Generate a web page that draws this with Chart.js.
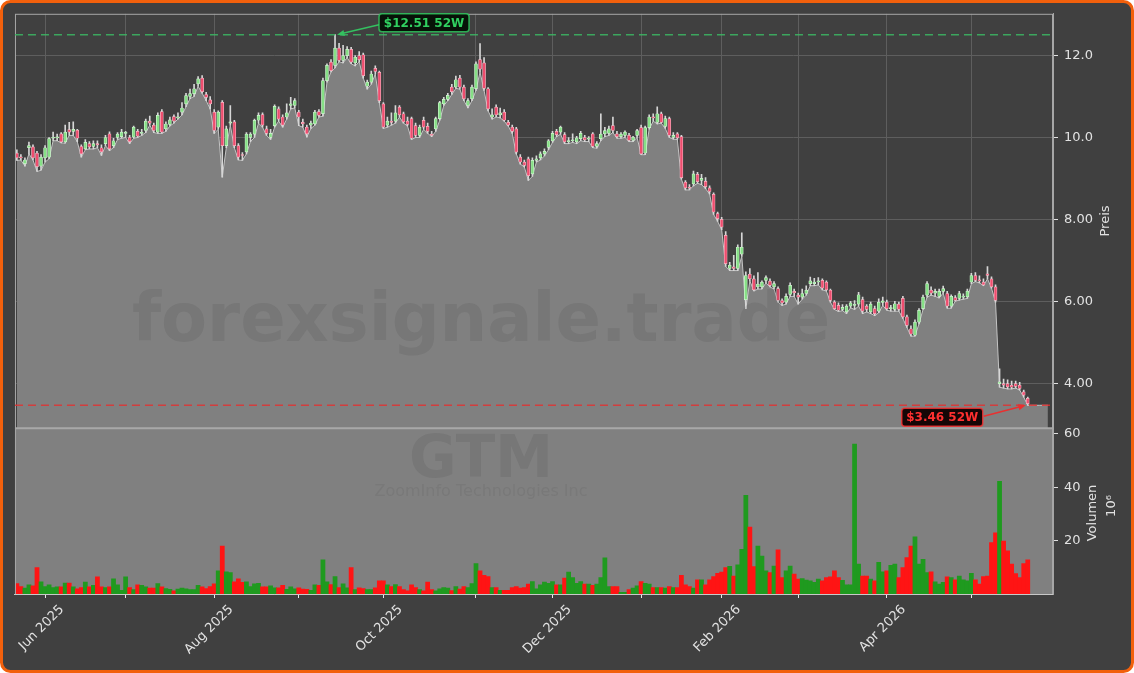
<!DOCTYPE html>
<html>
<head>
<meta charset="utf-8">
<title>GTM</title>
<script src="https://cdn.jsdelivr.net/npm/chart.js@4.4.1/dist/chart.umd.min.js"></script>
<style>
  html, body { margin: 0; padding: 0; background: #ffffff; }
  canvas { display: block; }
</style>
</head>
<body>
<canvas id="chart" width="1134" height="673"></canvas>
<script>
'use strict';

// x values are trading-day numbers, 0 = 21 May 2025
const monthTicks = [7, 27, 49, 70, 91, 114, 133, 155, 175, 194, 216, 237];
const monthLabels = ['Jun 2025', '', 'Aug 2025', '', 'Oct 2025', '', 'Dec 2025', '', 'Feb 2026', '', 'Apr 2026', ''];

const opens = [
  9.62, 9.52, 9.36, 9.75, 9.77, 9.62, 9.30, 9.50, 9.52, 9.98,
  9.99, 10.09, 9.89, 10.19, 10.15, 10.18, 9.78, 9.72, 9.85, 9.78,
  9.85, 9.75, 9.85, 10.09, 9.80, 10.00, 10.02, 10.10, 10.00, 10.01,
  10.15, 10.10, 10.17, 10.40, 10.30, 10.13, 10.63, 10.21, 10.32, 10.51,
  10.48, 10.62, 10.82, 11.00, 11.07, 11.31, 11.45, 11.05, 10.92, 10.62,
  10.25, 10.86, 9.80, 10.35, 10.38, 9.80, 9.58, 9.65, 10.00, 10.08,
  10.42, 10.56, 10.21, 10.00, 10.29, 10.70, 10.50, 10.50, 10.78, 10.78,
  10.62, 10.37, 10.25, 10.30, 10.33, 10.63, 10.58, 11.39, 11.84, 11.76,
  12.18, 11.88, 12.00, 12.15, 11.82, 12.00, 12.02, 11.25, 11.35, 11.69,
  11.59, 10.82, 10.30, 10.40, 10.40, 10.74, 10.58, 10.40, 10.46, 10.29,
  10.05, 10.42, 10.27, 10.08, 10.21, 10.46, 10.82, 10.93, 11.23, 11.23,
  11.45, 11.23, 10.78, 10.94, 11.19, 11.90, 11.82, 11.19, 10.50, 10.74,
  10.55, 10.62, 10.37, 10.25, 10.21, 9.52, 9.40, 9.48, 9.11, 9.44,
  9.50, 9.60, 9.76, 9.92, 10.15, 10.13, 10.07, 9.90, 9.92, 9.89,
  9.97, 10.00, 9.96, 10.09, 9.78, 9.97, 10.09, 10.10, 10.29, 10.09,
  10.02, 10.05, 10.05, 9.93, 10.05, 10.24, 9.62, 10.24, 10.50, 10.37,
  10.58, 10.27, 10.46, 10.00, 10.09, 10.02, 8.91, 8.78, 8.87, 9.10,
  8.95, 8.93, 8.77, 8.61, 8.14, 8.00, 7.61, 6.80, 6.84, 6.80,
  7.15, 6.04, 6.66, 6.55, 6.35, 6.35, 6.51, 6.49, 6.35, 6.31,
  6.02, 5.98, 6.17, 6.24, 6.15, 6.10, 6.19, 6.43, 6.43, 6.47,
  6.51, 6.47, 6.27, 5.98, 5.90, 5.80, 5.74, 5.88, 5.90, 5.93,
  6.04, 5.88, 5.74, 5.82, 5.76, 5.97, 5.98, 5.82, 5.80, 5.93,
  6.07, 5.62, 5.33, 5.17, 5.49, 5.82, 6.15, 6.27, 6.20, 6.12,
  6.24, 6.19, 5.88, 6.09, 6.07, 6.10, 6.11, 6.47, 6.63, 6.52,
  6.47, 6.67, 6.55, 6.35, 3.99, 3.99, 3.99, 3.95, 3.99, 3.95,
  3.79, 3.63
];

const highs = [
  9.70, 9.58, 9.50, 9.89, 9.82, 9.66, 9.58, 9.80, 10.00, 10.13,
  10.08, 10.12, 10.30, 10.37, 10.38, 10.20, 9.82, 9.95, 9.90, 9.92,
  9.92, 9.82, 10.05, 10.14, 9.98, 10.12, 10.20, 10.15, 10.05, 10.28,
  10.20, 10.20, 10.45, 10.52, 10.35, 10.60, 10.68, 10.38, 10.50, 10.55,
  10.60, 10.85, 11.08, 11.18, 11.30, 11.49, 11.51, 11.10, 11.00, 10.68,
  10.65, 10.90, 10.28, 10.78, 10.42, 9.85, 9.63, 10.12, 10.12, 10.45,
  10.60, 10.60, 10.28, 10.20, 10.80, 10.75, 10.55, 10.82, 10.98, 10.95,
  10.66, 10.45, 10.30, 10.40, 10.66, 10.68, 11.45, 11.80, 11.90, 12.51,
  12.30, 12.25, 12.22, 12.20, 12.00, 12.10, 12.06, 11.40, 11.62, 11.75,
  11.62, 10.85, 10.50, 10.60, 10.78, 10.78, 10.62, 10.50, 10.50, 10.35,
  10.30, 10.50, 10.35, 10.15, 10.50, 10.88, 10.98, 11.08, 11.30, 11.50,
  11.52, 11.28, 10.95, 11.28, 11.85, 12.29, 11.95, 11.22, 10.70, 10.80,
  10.72, 10.68, 10.42, 10.30, 10.25, 9.58, 9.45, 9.52, 9.50, 9.55,
  9.65, 9.72, 9.95, 10.15, 10.20, 10.28, 10.12, 10.00, 10.09, 10.03,
  10.15, 10.05, 10.02, 10.12, 9.90, 10.58, 10.25, 10.28, 10.50, 10.15,
  10.12, 10.16, 10.10, 10.03, 10.20, 10.30, 10.28, 10.55, 10.58, 10.75,
  10.62, 10.52, 10.50, 10.12, 10.12, 10.05, 8.95, 8.85, 9.18, 9.15,
  9.10, 9.02, 8.82, 8.65, 8.18, 8.05, 7.70, 6.95, 7.12, 7.38,
  7.67, 6.72, 6.80, 6.62, 6.70, 6.50, 6.62, 6.55, 6.48, 6.35,
  6.06, 6.18, 6.45, 6.30, 6.20, 6.30, 6.38, 6.59, 6.56, 6.58,
  6.55, 6.50, 6.30, 6.02, 5.96, 5.92, 5.92, 6.00, 6.02, 6.22,
  6.10, 5.92, 5.98, 5.88, 6.06, 6.10, 6.03, 5.90, 6.00, 5.98,
  6.12, 5.66, 5.40, 5.55, 5.82, 6.15, 6.48, 6.35, 6.30, 6.30,
  6.37, 6.24, 6.16, 6.14, 6.24, 6.18, 6.30, 6.68, 6.70, 6.62,
  6.55, 6.85, 6.60, 6.40, 4.35, 4.10, 4.08, 4.05, 4.05, 4.02,
  3.83, 3.66
];

const lows = [
  9.44, 9.45, 9.30, 9.60, 9.45, 9.17, 9.20, 9.40, 9.48, 9.92,
  9.92, 9.87, 9.86, 10.05, 10.05, 9.90, 9.52, 9.70, 9.72, 9.72,
  9.75, 9.56, 9.80, 9.68, 9.75, 9.95, 9.98, 10.00, 9.85, 9.98,
  10.00, 10.05, 10.12, 10.30, 10.12, 10.10, 10.10, 10.15, 10.28, 10.35,
  10.45, 10.55, 10.75, 10.95, 11.00, 11.25, 11.08, 10.90, 10.70, 10.10,
  10.20, 9.03, 9.75, 10.30, 9.75, 9.45, 9.44, 9.60, 9.90, 10.00,
  10.35, 10.25, 10.05, 9.95, 10.25, 10.40, 10.25, 10.45, 10.70, 10.72,
  10.29, 10.25, 10.01, 10.22, 10.30, 10.50, 10.52, 11.35, 11.60, 11.70,
  11.85, 11.82, 11.95, 11.80, 11.75, 11.85, 11.45, 11.18, 11.30, 11.55,
  10.85, 10.22, 10.25, 10.30, 10.35, 10.50, 10.35, 10.28, 9.95, 10.00,
  10.00, 10.20, 10.10, 10.02, 10.15, 10.42, 10.78, 10.90, 11.05, 11.20,
  11.18, 10.90, 10.72, 10.90, 11.15, 11.60, 11.15, 10.65, 10.45, 10.50,
  10.48, 10.40, 10.28, 10.10, 9.60, 9.35, 9.28, 8.95, 9.05, 9.40,
  9.45, 9.55, 9.70, 9.88, 10.02, 10.08, 9.85, 9.85, 9.88, 9.85,
  9.92, 9.90, 9.90, 9.75, 9.74, 9.92, 10.02, 10.05, 10.12, 9.98,
  9.98, 10.00, 9.90, 9.90, 10.00, 9.58, 9.58, 10.20, 10.40, 10.33,
  10.35, 10.22, 10.00, 9.96, 9.95, 8.98, 8.72, 8.72, 8.82, 8.88,
  8.85, 8.75, 8.62, 8.12, 7.95, 7.75, 6.85, 6.75, 6.75, 6.75,
  7.10, 5.82, 6.50, 6.25, 6.30, 6.30, 6.45, 6.35, 6.30, 5.98,
  5.90, 5.93, 6.12, 6.12, 5.93, 6.05, 6.15, 6.38, 6.38, 6.40,
  6.28, 6.25, 5.98, 5.80, 5.75, 5.77, 5.70, 5.84, 5.80, 5.88,
  5.70, 5.74, 5.70, 5.65, 5.72, 5.90, 5.78, 5.76, 5.76, 5.76,
  5.58, 5.36, 5.15, 5.15, 5.45, 5.80, 6.10, 6.15, 6.12, 6.08,
  6.20, 5.83, 5.83, 6.00, 6.03, 6.05, 6.07, 6.43, 6.48, 6.45,
  6.38, 6.55, 6.32, 5.98, 3.90, 3.88, 3.86, 3.86, 3.88, 3.83,
  3.66, 3.46
];

const closes = [
  9.50, 9.50, 9.45, 9.80, 9.50, 9.29, 9.52, 9.75, 9.97, 10.00,
  10.01, 9.89, 10.13, 10.13, 10.20, 9.98, 9.60, 9.88, 9.77, 9.85,
  9.82, 9.65, 10.00, 9.72, 9.92, 10.08, 10.13, 10.10, 9.90, 10.25,
  10.03, 10.12, 10.40, 10.35, 10.17, 10.54, 10.13, 10.33, 10.43, 10.40,
  10.50, 10.72, 11.02, 11.07, 11.19, 11.43, 11.12, 10.98, 10.82, 10.17,
  10.62, 9.80, 10.21, 10.38, 9.80, 9.52, 9.56, 10.08, 10.08, 10.42,
  10.54, 10.30, 10.10, 10.10, 10.76, 10.45, 10.30, 10.60, 10.82, 10.90,
  10.50, 10.33, 10.09, 10.35, 10.62, 10.54, 11.39, 11.76, 11.63, 12.18,
  11.88, 12.00, 12.15, 11.84, 11.96, 11.90, 11.51, 11.35, 11.55, 11.61,
  10.90, 10.25, 10.40, 10.37, 10.60, 10.55, 10.38, 10.32, 9.98, 10.05,
  10.25, 10.25, 10.15, 10.05, 10.46, 10.85, 10.93, 11.03, 11.12, 11.41,
  11.23, 10.94, 10.90, 11.23, 11.80, 11.67, 11.20, 10.70, 10.55, 10.55,
  10.60, 10.42, 10.30, 10.15, 9.64, 9.40, 9.32, 9.07, 9.44, 9.48,
  9.60, 9.66, 9.92, 10.10, 10.07, 10.25, 9.89, 9.92, 9.93, 9.99,
  10.10, 9.94, 9.97, 9.78, 9.85, 10.08, 10.17, 10.21, 10.17, 10.02,
  10.08, 10.13, 9.93, 10.01, 10.17, 9.60, 10.24, 10.50, 10.48, 10.58,
  10.37, 10.46, 10.05, 10.05, 9.99, 9.02, 8.77, 8.76, 9.11, 8.92,
  9.00, 8.80, 8.68, 8.18, 8.02, 7.81, 6.92, 6.88, 6.80, 7.32,
  7.32, 6.63, 6.55, 6.28, 6.42, 6.47, 6.58, 6.39, 6.43, 6.02,
  5.96, 6.12, 6.39, 6.21, 6.10, 6.19, 6.27, 6.50, 6.47, 6.50,
  6.32, 6.28, 6.02, 5.82, 5.78, 5.85, 5.88, 5.96, 5.90, 6.16,
  5.76, 5.80, 5.93, 5.70, 5.98, 6.01, 5.82, 5.83, 5.94, 5.80,
  5.62, 5.41, 5.20, 5.49, 5.78, 6.10, 6.43, 6.20, 6.24, 6.24,
  6.31, 5.88, 6.12, 6.02, 6.19, 6.12, 6.25, 6.63, 6.51, 6.50,
  6.40, 6.63, 6.35, 6.02, 4.03, 3.95, 3.91, 3.90, 3.92, 3.87,
  3.71, 3.50
];

// million shares
const volumes = [
  4.2, 3.1, 2.5, 3.7, 3.3, 10.1, 4.8, 3.1, 3.7, 2.7,
  3.0, 3.0, 4.4, 4.4, 3.0, 2.2, 2.7, 4.7, 3.0, 3.5,
  6.7, 3.0, 2.7, 3.0, 5.9, 3.7, 1.7, 6.7, 2.7, 1.9,
  3.7, 3.5, 3.0, 2.5, 2.5, 4.2, 3.0, 2.3, 2.0, 1.5,
  2.1, 2.5, 2.2, 1.9, 1.9, 3.5, 3.0, 2.3, 3.1, 4.1,
  8.9, 18.1, 8.5, 8.3, 4.8, 5.9, 4.6, 4.8, 3.1, 4.1,
  4.3, 3.0, 3.0, 3.3, 2.6, 2.6, 3.5, 2.0, 3.0, 2.2,
  2.6, 2.1, 2.0, 1.7, 3.7, 3.5, 13.0, 4.8, 3.8, 6.8,
  2.7, 4.1, 2.6, 10.1, 1.9, 2.6, 2.3, 1.9, 1.9, 2.6,
  5.2, 5.2, 3.7, 3.1, 3.8, 3.1, 1.9, 1.5, 3.7, 2.7,
  1.9, 1.5, 4.7, 1.9, 1.5, 2.2, 2.7, 2.5, 1.6, 3.1,
  2.1, 3.1, 2.7, 4.2, 11.6, 8.9, 7.2, 6.8, 2.7, 2.7,
  1.7, 1.7, 1.7, 2.7, 3.1, 2.5, 2.7, 4.0, 4.9, 2.2,
  3.7, 4.7, 4.3, 4.9, 3.7, 3.7, 6.2, 8.4, 6.4, 4.3,
  4.9, 4.0, 4.0, 3.5, 4.0, 6.4, 13.7, 3.1, 3.1, 3.1,
  0.9, 0.9, 1.9, 2.5, 3.3, 4.9, 4.3, 4.0, 2.7, 2.7,
  2.7, 2.5, 3.1, 2.7, 2.7, 7.2, 3.7, 3.1, 2.5, 5.6,
  5.6, 3.7, 5.6, 6.8, 8.0, 8.4, 10.1, 10.6, 7.0, 11.1,
  16.9, 37.0, 25.2, 10.5, 18.1, 14.4, 8.9, 8.3, 10.7, 16.7,
  6.4, 8.9, 10.7, 7.7, 5.8, 6.0, 5.5, 5.2, 4.6, 5.8,
  5.2, 6.4, 6.7, 8.9, 6.4, 5.4, 3.7, 3.7, 56.0, 11.4,
  7.0, 7.0, 5.8, 5.2, 12.1, 8.5, 8.9, 11.0, 11.4, 6.4,
  10.1, 13.8, 18.1, 21.5, 11.4, 13.2, 8.3, 8.5, 4.8, 4.0,
  4.6, 6.7, 6.4, 5.6, 7.0, 5.6, 5.2, 8.0, 5.6, 4.0,
  6.8, 7.0, 19.4, 23.0, 42.2, 20.0, 16.3, 11.4, 7.9, 6.4,
  11.6, 13.0
];

const priceTicks = [4, 6, 8, 10, 12];
const priceTickLabels = ['4.00', '6.00', '8.00', '10.0', '12.0'];
const volumeTicks = [20, 40, 60];
const volumeTickLabels = ['20', '40', '60'];

const high52 = 12.51;
const high52Day = 79;
const low52 = 3.46;
const low52Day = 251;
// shaded area runs on flat a few sessions past the last candle
const tailDays = [252, 253, 254, 255, 256];

const upFill = '#86e086';
const upEdge = '#d2f5d2';
const downFill = '#ee4d6e';
const downEdge = '#f8b8c6';
const volUp = '#1f9a1f';
const volDown = '#ff1414';
const textColor = '#e2e2e2';

let isUp = opens.map((o, i) => closes[i] >= o);

let areaData = lows.map((l, i) => ({ x: i, y: l }));
tailDays.forEach(d => areaData.push({ x: d, y: low52 }));

let wickData = highs.map((h, i) => ({ x: i, y: [lows[i], h] }));
let bodyData = opens.map((o, i) => ({ x: i, y: [o, closes[i]] }));
let volData = volumes.map((v, i) => ({ x: i, y: v }));

function arrow(ctx, x1, y1, x2, y2, color) {
  let ang = Math.atan2(y2 - y1, x2 - x1);
  ctx.strokeStyle = color;
  ctx.fillStyle = color;
  ctx.lineWidth = 1.6;
  ctx.beginPath();
  ctx.moveTo(x1, y1);
  ctx.lineTo(x2 - 6 * Math.cos(ang), y2 - 6 * Math.sin(ang));
  ctx.stroke();
  ctx.beginPath();
  ctx.moveTo(x2, y2);
  ctx.lineTo(x2 - 8 * Math.cos(ang - 0.4), y2 - 8 * Math.sin(ang - 0.4));
  ctx.lineTo(x2 - 8 * Math.cos(ang + 0.4), y2 - 8 * Math.sin(ang + 0.4));
  ctx.closePath();
  ctx.fill();
}

function tag(ctx, text, x, y, w, h, fg, bg) {
  ctx.beginPath();
  ctx.roundRect(x, y, w, h, 3);
  ctx.fillStyle = bg;
  ctx.fill();
  ctx.lineWidth = 1.5;
  ctx.strokeStyle = fg;
  ctx.globalAlpha = 0.8;
  ctx.stroke();
  ctx.globalAlpha = 1;
  ctx.fillStyle = fg;
  ctx.font = 'bold 12px "DejaVu Sans"';
  ctx.textAlign = 'center';
  ctx.textBaseline = 'middle';
  ctx.fillText(text, x + w / 2, y + h / 2 + 1);
}

const panels = {
  id: 'panels',
  beforeDraw(chart) {
    let ctx = chart.ctx;
    ctx.save();
    ctx.fillStyle = '#ffffff';
    ctx.fillRect(0, 0, chart.width, chart.height);
    ctx.beginPath();
    ctx.roundRect(1.5, 1.5, chart.width - 3, chart.height - 3, 9);
    ctx.fillStyle = '#404040';
    ctx.fill();
    ctx.lineWidth = 3;
    ctx.strokeStyle = '#f2600c';
    ctx.stroke();
    ctx.restore();
  },
  beforeDatasetsDraw(chart) {
    let ctx = chart.ctx;
    let a = chart.chartArea;
    let yv = chart.scales.yv;
    ctx.save();
    ctx.fillStyle = '#808080';
    ctx.fillRect(a.left, yv.top, a.right - a.left, yv.bottom - yv.top);
    ctx.restore();
  },
  afterDatasetsDraw(chart) {
    let ctx = chart.ctx;
    let a = chart.chartArea;
    let x = chart.scales.x;
    let y = chart.scales.y;
    let yv = chart.scales.yv;
    ctx.save();

    // watermark
    ctx.textAlign = 'center';
    ctx.textBaseline = 'middle';
    ctx.fillStyle = 'rgba(40, 40, 40, 0.10)';
    ctx.font = 'bold 67px "DejaVu Sans"';
    ctx.fillText('forexsignale.trade', 481, 324);
    ctx.font = 'bold 58px "DejaVu Sans"';
    ctx.fillText('GTM', 481, 462);
    ctx.fillStyle = 'rgba(40, 40, 40, 0.08)';
    ctx.font = '16px "DejaVu Sans"';
    ctx.fillText('ZoomInfo Technologies Inc', 481, 492);

    // frame
    ctx.strokeStyle = '#a6a6a6';
    ctx.lineWidth = 1;
    ctx.strokeRect(a.left + 0.5, a.top + 0.5, a.right - a.left - 1, a.bottom - a.top);
    ctx.lineWidth = 2;
    ctx.strokeStyle = '#a8a8a8';
    ctx.beginPath();
    ctx.moveTo(a.left, y.bottom);
    ctx.lineTo(a.right, y.bottom);
    ctx.stroke();
    ctx.lineWidth = 1;
    ctx.strokeStyle = '#c8c8c8';
    ctx.beginPath();
    ctx.moveTo(a.left, yv.bottom + 0.5);
    ctx.lineTo(a.right, yv.bottom + 0.5);
    ctx.stroke();

    // 52 week lines
    let yHi = y.getPixelForValue(high52);
    let yLo = y.getPixelForValue(low52);
    ctx.setLineDash([8, 5]);
    ctx.lineWidth = 1.6;
    ctx.strokeStyle = 'rgba(60, 185, 100, 0.85)';
    ctx.beginPath();
    ctx.moveTo(a.left, yHi);
    ctx.lineTo(a.right, yHi);
    ctx.stroke();
    ctx.strokeStyle = 'rgba(225, 50, 50, 0.85)';
    ctx.beginPath();
    ctx.moveTo(a.left, yLo);
    ctx.lineTo(a.right, yLo);
    ctx.stroke();
    ctx.setLineDash([]);

    let xHi = x.getPixelForValue(high52Day);
    let xLo = x.getPixelForValue(low52Day);
    arrow(ctx, xHi + 44, yHi - 10, xHi + 2, yHi, '#34c060');
    tag(ctx, '$12.51 52W', xHi + 44, yHi - 21, 90, 18, '#30d060', '#071208');
    arrow(ctx, xLo - 44, yLo + 11, xLo - 2, yLo, '#e83030');
    tag(ctx, '$3.46 52W', xLo - 126, yLo + 3, 81, 18, '#ff3030', '#150606');

    // axis titles
    ctx.fillStyle = textColor;
    ctx.font = '13px "DejaVu Sans"';
    ctx.textAlign = 'center';
    ctx.textBaseline = 'middle';
    ctx.translate(1106, (y.top + y.bottom) / 2);
    ctx.rotate(-Math.PI / 2);
    ctx.fillText('Preis', 0, 0);
    ctx.setTransform(1, 0, 0, 1, 0, 0);
    ctx.translate(1093, 513);
    ctx.rotate(-Math.PI / 2);
    ctx.fillText('Volumen', 0, 0);
    ctx.setTransform(1, 0, 0, 1, 0, 0);
    ctx.translate(1112, 506);
    ctx.rotate(-Math.PI / 2);
    ctx.fillText('10⁶', 0, 0);
    ctx.restore();
  }
};

Chart.defaults.font.family = '"DejaVu Sans", sans-serif';
Chart.defaults.font.size = 13;
Chart.defaults.color = textColor;

let ctx = document.getElementById('chart').getContext('2d');
let chart = new Chart(ctx, {
  type: 'bar',
  data: {
    datasets: [
      {
        type: 'line',
        data: areaData,
        yAxisID: 'y',
        borderColor: '#c4c4c4',
        borderWidth: 1,
        backgroundColor: '#808080',
        fill: 'start',
        pointRadius: 0,
        tension: 0,
        order: 3
      },
      {
        data: wickData,
        yAxisID: 'y',
        backgroundColor: '#d6d6d6',
        barThickness: 1,
        grouped: false,
        order: 2
      },
      {
        data: bodyData,
        yAxisID: 'y',
        backgroundColor: isUp.map(u => u ? upFill : downFill),
        borderColor: isUp.map(u => u ? upEdge : downEdge),
        borderWidth: 0.7,
        borderSkipped: false,
        barThickness: 3,
        minBarLength: 1,
        grouped: false,
        order: 1
      },
      {
        data: volData,
        yAxisID: 'yv',
        backgroundColor: isUp.map(u => u ? volUp : volDown),
        barThickness: 4.1,
        grouped: false,
        order: 4
      }
    ]
  },
  options: {
    responsive: false,
    animation: false,
    layout: { padding: { left: 13, top: 13, right: 0, bottom: 0 } },
    plugins: { legend: { display: false }, tooltip: { enabled: false } },
    scales: {
      x: {
        type: 'linear',
        offset: false,
        min: -0.47,
        max: 257.27,
        afterBuildTicks: scale => { scale.ticks = monthTicks.map(v => ({ value: v })); },
        afterFit: scale => { scale.height = 79; },
        ticks: {
          autoSkip: false,
          maxRotation: 45,
          minRotation: 45,
          labelOffset: 17,
          padding: 4,
          color: textColor,
          callback: (v, i) => monthLabels[i]
        },
        grid: { offset: false, color: '#5e5e5e', tickColor: '#e8e8e8', tickLength: 4 },
        border: { color: '#c8c8c8' }
      },
      y: {
        position: 'right',
        stack: 'panels',
        stackWeight: 415,
        min: 2.9,
        max: 13.02,
        afterBuildTicks: scale => { scale.ticks = priceTicks.map(v => ({ value: v })); },
        afterFit: scale => { scale.width = 81; },
        ticks: {
          padding: 6,
          color: textColor,
          callback: (v, i) => priceTickLabels[i]
        },
        grid: { color: '#5e5e5e', tickColor: '#e0e0e0', tickLength: 5 },
        border: { color: '#a6a6a6' }
      },
      yv: {
        position: 'right',
        stack: 'panels',
        stackWeight: 166,
        min: 0.3,
        max: 61.9,
        afterBuildTicks: scale => { scale.ticks = volumeTicks.map(v => ({ value: v })); },
        afterFit: scale => { scale.width = 81; },
        ticks: {
          padding: 6,
          color: textColor,
          callback: (v, i) => volumeTickLabels[i]
        },
        grid: { drawOnChartArea: false, tickColor: '#e0e0e0', tickLength: 5 },
        border: { color: '#a6a6a6' }
      }
    }
  },
  plugins: [panels]
});
</script>
</body>
</html>
